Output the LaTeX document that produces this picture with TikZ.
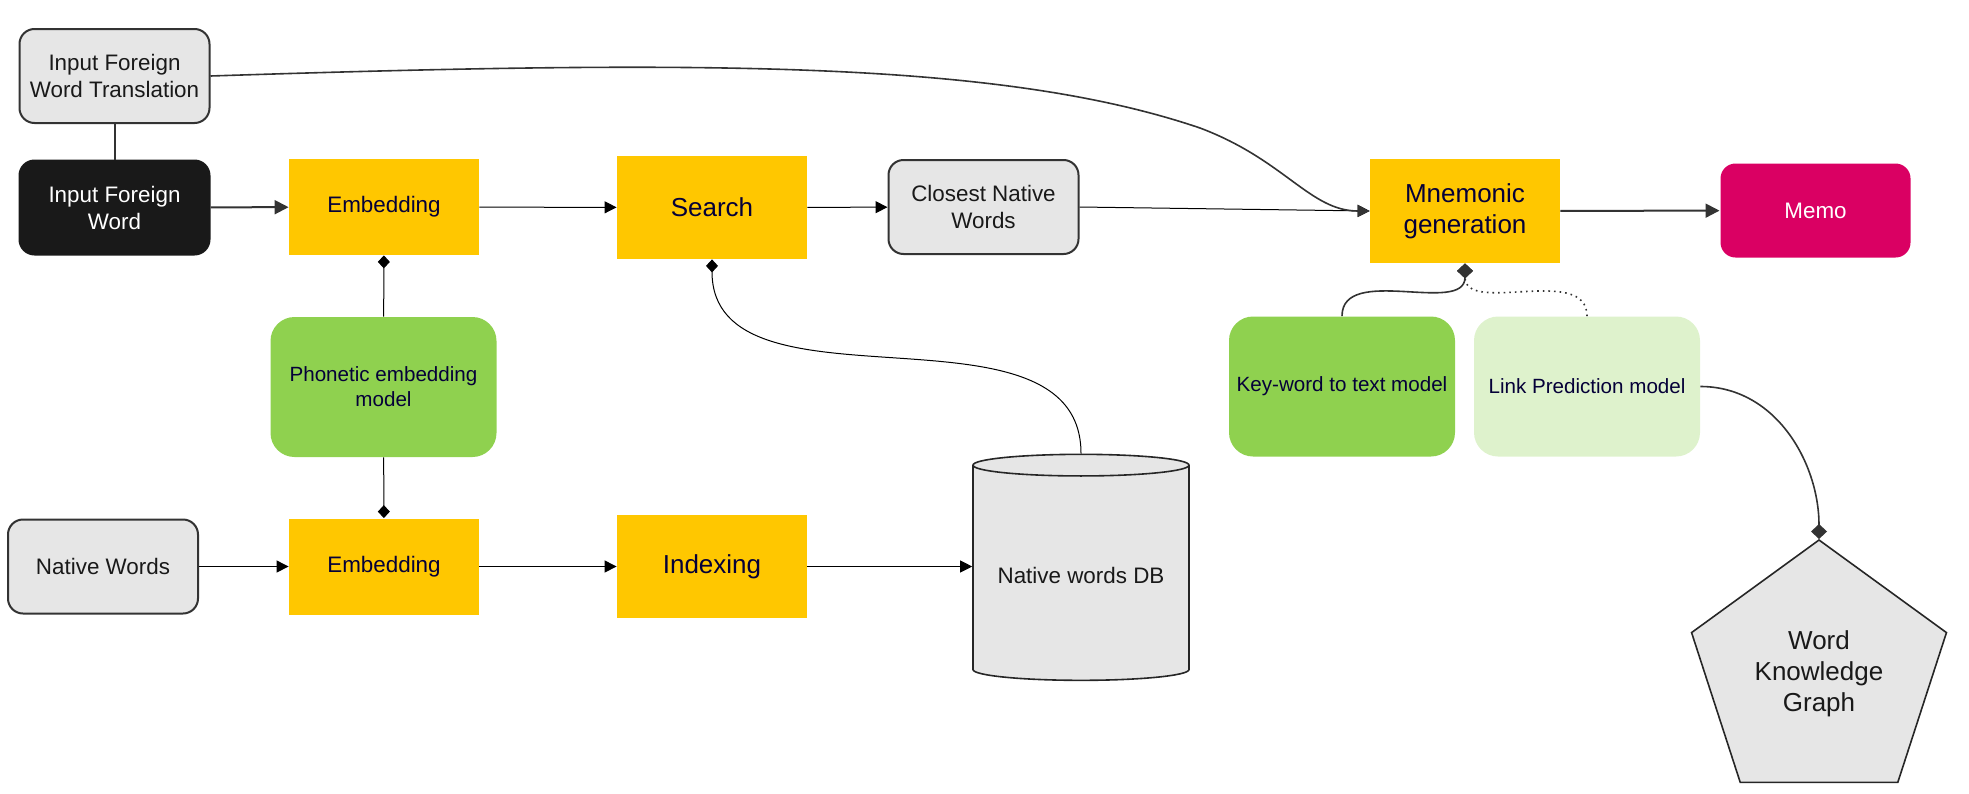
\documentclass[tikz,border=0pt]{standalone}
\usepackage{fontspec}
\setmainfont{Liberation Sans}
\usetikzlibrary{arrows.meta,shapes.geometric}
\definecolor{ylw}{HTML}{FFC700}
\definecolor{grn}{HTML}{8FD14F}
\definecolor{lgrn}{HTML}{DEF2CC}
\definecolor{gry}{HTML}{E6E6E6}
\definecolor{mag}{HTML}{DA0063}
\definecolor{navy}{HTML}{050038}
\definecolor{dk}{HTML}{333333}

\begin{document}
\begin{tikzpicture}[x=0.5pt,y=-0.5pt,font=\fontsize{11.2}{13.5}\selectfont,
  >={Triangle[length=6pt,width=6pt]},
  gr/.style={draw=dk,line width=1pt,rounded corners=7.5pt,fill=gry,text=black!90,align=center,
    minimum width=95pt,minimum height=47pt,inner sep=2pt},
  yl/.style={fill=ylw,text=navy,align=center,minimum width=95pt,minimum height=48pt,inner sep=2pt},
  md/.style={fill=grn,text=navy,rounded corners=12pt,align=center,minimum width=113pt,minimum height=70pt,
    font=\fontsize{10.3}{12.5}\selectfont},
  big/.style={font=\fontsize{13}{15.5}\selectfont},
  dm/.style={-{Diamond[length=6.5pt,width=6pt]}},
  dmb/.style={-{Diamond[length=7.5pt,width=8pt]}},
  cn/.style={line width=0.5pt}]
  \useasboundingbox (0,0) rectangle (1969,793);
  \node[gr] (tr) at (114.5,76) {Input Foreign\\Word Translation};
  \node[gr,fill=black!90,draw=black!90,text=white] (iw) at (114.5,207.5) {Input Foreign\\Word};
  \node[yl] (e1) at (384,207) {Embedding};
  \node[yl,big,minimum height=51.5pt] (srch) at (712,207.5) {Search};
  \node[gr] (cls) at (983.5,207) {Closest Native\\Words};
  \node[yl,big,minimum height=52pt] (mnem) at (1465,211) {Mnemonic\\generation};
  \node[gr,draw=none,fill=mag,text=white] (memo) at (1815.5,210.5) {Memo};
  \node[md] (phon) at (383.5,387) {Phonetic embedding\\model};
  \node[md] (key) at (1342,386.5) {Key-word to text model};
  \node[md,fill=lgrn] (link) at (1587,386.5) {Link Prediction model};
  \node[gr] (nw) at (103,566.5) {Native Words};
  \node[yl] (e2) at (384,566.5) {Embedding};
  \node[yl,big,minimum height=51.5pt] (idx) at (712,566.5) {Indexing};
  \node[cylinder,shape border rotate=90,aspect=0.12,draw=black!85,line width=0.8pt,fill=gry,
    minimum width=108pt,minimum height=113pt,text=black!90] (db) at (1081,575) {Native words DB};
  \node[regular polygon,regular polygon sides=5,minimum size=134pt,inner sep=0pt,draw=black!85,
    line width=0.8pt,fill=gry,big,align=center,text=black!90] (wkg) at (1819,674) {Word\\Knowledge\\Graph};
  % connectors
  \draw[line width=1pt,dk] (tr)--(iw);
  \draw[->,line width=1pt,dk,>={Triangle[length=7pt,width=7pt]}] (iw)--(e1);
  \foreach \a/\b in {e1/srch,srch/cls,nw/e2,e2/idx} \draw[->,cn] (\a)--(\b);
  \draw[->,cn] (idx.east)--(idx.east-|db.west);
  \draw[->,cn] (cls.east)--(mnem.west);
  \draw[->,line width=0.8pt,dk] (tr.east) .. controls (700,60) and (1000,60) .. (1200,128)
    .. controls (1285,160) and (1310,211) .. (mnem.west);
  \draw[->,line width=1pt,dk,>={Triangle[length=7pt,width=7pt]}] (mnem)--(memo);
  \draw[dm,cn] (phon)--(e1);
  \draw[dm,cn] (phon)--(e2);
  \draw[dm,cn] (db.north) to[out=90,in=-90] (srch.south);
  \draw[dmb,line width=0.8pt,dk] (key.north) to[out=90,in=-90] (mnem.south);
  \draw[dmb,line width=0.8pt,dk,dotted] (link.north) to[out=90,in=-90] (mnem.south);
  \draw[dmb,line width=0.8pt,dk] (link.east) to[out=0,in=90] (wkg.corner 1);
\end{tikzpicture}
\end{document}
